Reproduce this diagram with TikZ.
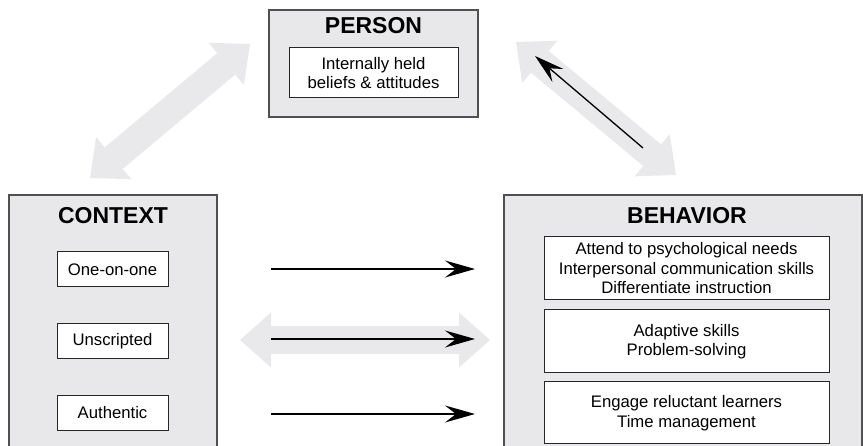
\documentclass[tikz,border=0pt]{standalone}
\usepackage{fontspec}
\setmainfont{Liberation Sans}
\usepackage{xcolor}
\usetikzlibrary{arrows.meta}
\definecolor{grigiobox}{HTML}{E8E8EA}
\definecolor{grigiofreccia}{HTML}{E9E9EB}
\definecolor{bordo}{HTML}{505050}

\begin{document}
\begin{tikzpicture}[x=1pt,y=-1pt,
    esterno/.style={draw=bordo, line width=1.2pt, fill=grigiobox, inner sep=0pt},
    interno/.style={draw=black!85, line width=1pt, fill=white, align=center, inner sep=0pt,
        font=\fontsize{16.7}{19.5}\selectfont},
    titolo/.style={font=\fontsize{23}{26}\selectfont\bfseries},
    grossa/.style={grigiofreccia, line width=28pt,
        {Triangle[length=31pt, width=55pt, line width=0pt]}-{Triangle[length=31pt, width=55pt, line width=0pt]}},
    freccia/.style={line width=1.3pt, -{Stealth[length=30pt, width=17pt, inset=11pt]}}]
    \useasboundingbox (0,0) rectangle (863,446);
    \clip (0,0) rectangle (863,446);

    % Riquadro PERSON
    \node[esterno, minimum width=209pt, minimum height=107pt] (person) at (373.5,63.5) {};
    \node[titolo] (persontit) at (373.5,26) {PERSON};
    \node[interno, minimum width=169pt, minimum height=50pt] (beliefs) at (373.5,73) {Internally held\\beliefs \& attitudes};

    % Riquadro CONTEXT
    \node[esterno, minimum width=208pt, minimum height=280pt] (context) at (113,335) {};
    \node[titolo] (contexttit) at (113,216) {CONTEXT};
    \node[interno, minimum width=111pt, minimum height=35pt] (uno) at (112.5,269.5) {One-on-one};
    \node[interno, minimum width=111pt, minimum height=35pt] (unscr) at (112.5,341) {Unscripted};
    \node[interno, minimum width=111pt, minimum height=35pt] (auth) at (112.5,413) {Authentic};

    % Riquadro BEHAVIOR
    \node[esterno, minimum width=358pt, minimum height=280pt] (behavior) at (683,335) {};
    \node[titolo] (behaviortit) at (687,216) {BEHAVIOR};
    \node[interno, minimum width=285pt, minimum height=63pt] (needs) at (686.5,268.5)
        {Attend to psychological needs\\Interpersonal communication skills\\Differentiate instruction};
    \node[interno, minimum width=285pt, minimum height=63pt] (adapt) at (686.5,341.5)
        {Adaptive skills\\Problem-solving};
    \node[interno, minimum width=285pt, minimum height=62pt] (engage) at (686.5,413)
        {Engage reluctant learners\\Time management};

    % Frecce grigie
    \coordinate (gA1) at (90,178);  \coordinate (gA2) at (250,44);
    \coordinate (gB1) at (516,42);  \coordinate (gB2) at (676,175);
    \coordinate (gC1) at (240,340); \coordinate (gC2) at (490,340);
    \draw[grossa] (gA1) -- (gA2);
    \draw[grossa] (gB1) -- (gB2);
    \draw[grossa] (gC1) -- (gC2);

    % Frecce nere
    \coordinate (nA1) at (643,148); \coordinate (nA2) at (535,56);
    \draw[freccia] (nA1) -- (nA2);
    \coordinate (n11) at (271,269); \coordinate (n12) at (475,269);
    \coordinate (n21) at (271,339); \coordinate (n22) at (475,339);
    \coordinate (n31) at (271,414); \coordinate (n32) at (475,414);
    \draw[freccia] (n11) -- (n12);
    \draw[freccia] (n21) -- (n22);
    \draw[freccia] (n31) -- (n32);
\end{tikzpicture}
\end{document}
